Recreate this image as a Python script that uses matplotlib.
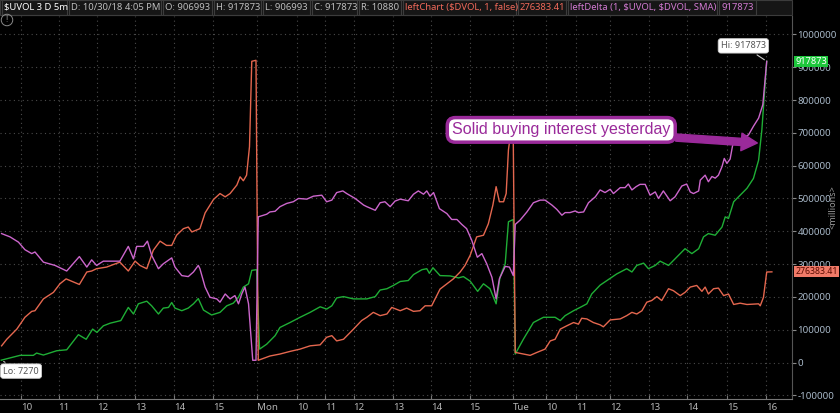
#!/usr/bin/python3

import matplotlib
matplotlib.use("Agg")
import matplotlib.pyplot as plt
from matplotlib.patches import Rectangle

# ---------------------------------------------------------------------------
# Data (x = 5-minute bar number over the 3 sessions, values in thousands)
# ---------------------------------------------------------------------------

uvol_x = [0, 5.8, 9.9, 10.9, 13, 17.1, 20.2, 23.8, 26.2, 28.2, 29.5, 31.5, 33.6, 36.9, 39.2, 40.8,
          42.3, 44.9, 46.4, 48.5, 50, 51.6, 52.6, 53.6, 55.7, 57.7, 59.3, 60.8, 62.4, 64.9, 67.5,
          69.6, 71.6, 73.2, 74.7, 76.3, 77.3, 78.8,
          79.7, 81.9, 84.5, 86, 89.1, 92.2, 95.3, 98.4, 100.4, 102, 103.5, 105.6, 108.7, 112.8,
          115.4, 116.9, 119, 121, 123.1, 125.6, 127.2, 129.8, 131.3, 132.1, 133.2, 135.4, 138.5,
          141.1, 142.6, 144.7, 147, 148.8, 150.8, 152.7, 153.9, 155.5, 156.5, 158,
          158.6, 161.1, 164.2, 167.3, 170.9, 172.5, 174, 176.6, 178.6, 180.7, 182.2, 184.8, 186.9,
          189.9, 193, 194.6, 196.1, 198.2, 199.7, 201.8, 203.3, 205.9, 208, 209.5, 211, 213.1,
          215.2, 216.7, 218.2, 220.3, 222.4, 223.4, 224.4, 226, 228, 230.1, 232.1, 233.7, 234.7,
          235.5, 236.2]
uvol_k = [7.27, 22, 22, 29, 23, 36, 39, 85, 71, 102, 92, 112, 120, 128, 168, 148,
          179, 187, 173, 148, 166, 168, 183, 166, 158, 166, 179, 195, 160, 145, 153,
          173, 181, 199, 230, 240, 281, 283,
          41, 56, 82, 107, 122, 138, 153, 170, 163, 173, 197, 201, 194, 194,
          201, 221, 225, 235, 247, 250, 268, 283, 286, 272, 289, 265, 264,
          258, 262, 248, 217, 240, 225, 179, 260, 301, 429, 436,
          26, 71, 122, 138, 138, 128, 143, 158, 168, 179, 209, 236, 250,
          270, 286, 276, 296, 303, 286, 296, 309, 296, 317, 332, 347, 332,
          347, 383, 393, 388, 413, 444, 439, 490, 510, 531, 561, 617, 709,
          821, 917.873]

dvol_x = [0.1, 1.7, 4.8, 7.3, 9.4, 10.4, 13, 16.1, 18.1, 20, 21.7, 24.1, 26.4, 27.9, 29.4, 32.5,
          36.6, 39.2, 41.3, 42.8, 44.9, 46.9, 49, 51, 52.6, 54.1, 56.2, 57.7, 58.8, 61.3, 62.9,
          65.5, 67.5, 69.1, 70.6, 72.7, 73.7, 74.7, 75.7, 76.6, 77.3, 78.6,
          79.3, 82.9, 86, 89.1, 92.2, 95.3, 98.4, 100.4, 102, 103.5, 105.6, 108.7, 111.2, 112.8,
          114.8, 116.9, 119, 120.5, 123.1, 125.1, 127.2, 129.2, 130.8, 132.8, 135.4, 137.5, 139.5,
          141.6, 143.1, 144.7, 146.7, 148.8, 150.3, 151.7, 152.7, 153.7, 155, 155.8, 156.5, 157.2,
          158,
          158.6, 160.1, 163.2, 165.3, 167.8, 169.4, 170.9, 172.5, 174.5, 176.6, 178.1, 179.1,
          180.7, 182.7, 184.8, 185.8, 187.9, 191, 193, 194.6, 196.1, 197.7, 199.2, 200.7, 202.3,
          203.8, 205.9, 207.4, 209.5, 211, 212.6, 214.6, 216.2, 217.2, 218.2, 219.8, 221.3, 222.9,
          224.4, 226, 228, 230.1, 233.7, 234.2, 235.2, 236.2, 237.8]
dvol_k = [51, 71, 102, 138, 156, 158, 194, 214, 240, 255, 248, 238, 276, 279, 286, 291,
          306, 279, 309, 296, 286, 342, 370, 357, 357, 388, 408, 413, 398, 408, 456,
          497, 515, 505, 515, 541, 566, 554, 571, 658, 918, 921,
          7, 20, 26, 34, 41, 51, 54, 77, 82, 66, 71, 102, 128, 138,
          153, 143, 148, 168, 158, 166, 156, 158, 173, 173, 224, 240, 255,
          276, 296, 327, 383, 388, 423, 480, 536, 490, 490, 515, 648, 700,
          668,
          31, 28, 22, 31, 41, 66, 71, 102, 112, 122, 117, 135,
          133, 122, 115, 109, 130, 133, 143, 153, 148, 158, 184, 189, 201,
          189, 225, 219, 204, 214, 230, 235, 217, 230, 209, 225, 227, 204,
          209, 177, 181, 177, 179, 173, 199, 276, 276.38341]

delta_x = [0.1, 2.7, 5.3, 7.3, 9.4, 10.4, 13, 16.6, 20.2, 24.1, 26.4, 27.9, 29.4, 31.5, 36.6,
           39.2, 40.8, 41.8, 43.9, 45.1, 46.4, 48.5, 50, 52.6, 53.6, 55.7, 57.7, 59.3, 60.8,
           61.3, 62.9, 64.4, 66.5, 67.5, 69.1, 70.6, 72.1, 73.2, 74.2, 75.2, 76.3, 77.6, 78.6,
           79.3, 81.9, 82.9, 84.5, 86, 88.1, 90.1, 91.7, 94.3, 96.3, 98.9, 100.4, 102, 103.5,
           105.4, 106.6, 109.2, 111.8, 112.8, 115.4, 116.9, 118.4, 120, 121.5, 123.1, 125.6,
           127.2, 128.7, 130.3, 131.3, 132.3, 133.4, 135.2, 137.5, 139, 140.6, 142.1, 143.6,
           145.2, 146.9, 148.3, 149.8, 151.4, 152.7, 153.7, 155.5, 156.8, 158,
           158.6, 160.1, 162.2, 164.2, 166.3, 167.8, 169.9, 171.4, 173, 174, 175.5, 177.1,
           178.1, 179.7, 181.2, 183.3, 184.8, 186.3, 187.9, 188.9, 191, 192.5, 193.5, 194.6,
           195.9, 197.1, 198.7, 200.2, 201.8, 202.8, 204.3, 206.4, 207.9, 210, 211.5, 212.6,
           213.6, 215.2, 215.7, 217.2, 218.2, 219.3, 220.3, 221.3, 222.4, 223.1, 223.9, 224.9,
           225.7, 227.5, 229, 230.6, 232.1, 233.7, 235, 235.5, 236.2]
delta_k = [393, 383, 367, 344, 332, 337, 306, 296, 279, 323, 291, 313, 296, 309, 309,
           354, 316, 354, 354, 370, 327, 286, 301, 319, 291, 265, 262, 276, 296,
           286, 230, 199, 194, 184, 209, 194, 204, 179, 209, 230, 179, 7, 7,
           444, 452, 459, 461, 475, 485, 490, 500, 498, 507, 510, 490, 495, 518,
           523, 515, 500, 480, 475, 464, 487, 490, 475, 492, 498, 493,
           513, 523, 513, 523, 507, 518, 469, 454, 436, 436, 421, 408,
           372, 321, 332, 301, 260, 194, 255, 293, 291, 265,
           421, 434, 459, 487, 495, 495, 480, 467, 449, 457, 457, 462,
           457, 459, 487, 505, 526, 518, 528, 515, 533, 533, 544, 526,
           536, 543, 543, 510, 520, 500, 523, 493, 505, 538, 544, 520,
           515, 523, 556, 571, 551, 567, 562, 571, 597, 622, 607, 620,
           663, 674, 684, 694, 720, 745, 786, 842, 917.873]

# hourly grid / time labels (bar number of each mark)
time_ticks  = [6.0, 17.7, 29.5, 41.3, 53.2, 65.3, 78.8, 91.2, 99.9, 108.7, 120.8, 132.5,
               144.5, 158.0, 168.1, 177.3, 187.9, 199.9, 211.7, 223.9, 235.9]
time_labels = ["10", "11", "12", "13", "14", "15", "Mon", "10", "11", "12", "13", "14",
               "15", "Tue", "10", "11", "12", "13", "14", "15", "16"]

price_ticks = list(range(-100000, 1000001, 100000))

header_cells = [
    ("$UVOL 3 D 5m",                      "#ffffff", 2,   67),
    ("D: 10/30/18 4:05 PM",               "#bdbdbd", 69,  161),
    ("O: 906993",                         "#bdbdbd", 163, 212),
    ("H: 917873",                         "#bdbdbd", 214, 261),
    ("L: 906993",                         "#bdbdbd", 263, 310),
    ("C: 917873",                         "#bdbdbd", 312, 357),
    ("R: 10880",                          "#bdbdbd", 359, 401),
    ("leftChart ($DVOL, 1, false)",       "#f0695a", 403, 516),
    ("276383.41",                         "#f0695a", 518, 566),
    ("leftDelta (1, $UVOL, $DVOL, SMA)",  "#d27ad2", 568, 717),
    ("917873",                            "#d27ad2", 719, 756),
]

uvol    = [v * 1000 for v in uvol_k]
dvol    = [v * 1000 for v in dvol_k]
delta   = [v * 1000 for v in delta_k]

# ---------------------------------------------------------------------------
# Figure
# ---------------------------------------------------------------------------

W, H = 840, 413
GREEN  = "#1fae36"
ORANGE = "#e4674f"
VIOLET = "#cc66cc"
PURPLE = "#9a2a9a"

plt.rcParams["font.family"] = ["Noto Sans", "DejaVu Sans"]
plt.rcParams["text.parse_math"] = False   # keep the "$" in ticker names literal

fig = plt.figure(figsize=(W / 100, H / 100), dpi=100, facecolor="black")
ax = fig.add_axes([0, 14 / H, 792 / W, 383 / H], facecolor="black")

ax.plot(uvol_x, uvol, color=GREEN, lw=1.0)
ax.plot(dvol_x, dvol, color=ORANGE, lw=1.0)
ax.plot(delta_x, delta, color=VIOLET, lw=1.0)

ax.set_xlim(-0.39, 244.0)
ax.set_ylim(-111000, 1056000)

# grid
for t in time_ticks:
    ax.axvline(t, color="#4a4a4a", lw=0.8, ls=(0, (1, 3)), zorder=0)
for p in price_ticks:
    ax.axhline(p, color="#4a4a4a", lw=0.8, ls=(0, (1, 3)), zorder=0)

# x axis
ax.set_xticks(time_ticks)
ax.set_xticklabels(time_labels)
for lab in ax.get_xticklabels():
    lab.set_horizontalalignment("left")
ax.tick_params(axis="x", direction="in", length=3, color="#777777", labelcolor="#b4b4b4",
               labelsize=7, pad=3)

# y axis on the right
ax.yaxis.tick_right()
ax.set_yticks(price_ticks)
ax.set_yticklabels([str(p) for p in price_ticks])
ax.tick_params(axis="y", direction="out", length=3, color="#888888", labelcolor="#a9b9c9",
               labelsize=7, pad=1)

for side in ("top", "left"):
    ax.spines[side].set_visible(False)
ax.spines["right"].set_color("#555555")
ax.spines["bottom"].set_color("#777777")

fig.text(833 / W, 1 - 207 / H, "<millions>", rotation=90, color="#9a9a9a", fontsize=6.5,
         ha="center", va="center")

# last value tags (they sit over the axis labels, as in the platform)
ax.text(1.004, uvol[-1], str(round(uvol[-1])), transform=ax.get_yaxis_transform(),
        color="white", fontsize=6.6, ha="left", va="center", zorder=10,
        bbox=dict(boxstyle="square,pad=0.12", fc="#1ec73c", ec="none"))
ax.text(1.004, dvol[-1], "%.2f" % dvol[-1], transform=ax.get_yaxis_transform(),
        color="#5a0a00", fontsize=6.3, ha="left", va="center", zorder=10,
        bbox=dict(boxstyle="square,pad=0.12", fc="#f07a68", ec="none"))

# Hi / Lo bubbles
ax.annotate("Hi: %d" % round(max(uvol)), xy=(uvol_x[-1], max(uvol)), xytext=(229.0, 965000),
            fontsize=6.5, color="#555555", ha="center", va="center",
            bbox=dict(boxstyle="round,pad=0.3", fc="white", ec="#cccccc", lw=0.6),
            arrowprops=dict(arrowstyle="-", color="#cccccc", lw=0.8))
ax.annotate("Lo: %d" % round(min(uvol)), xy=(uvol_x[0], min(uvol)), xytext=(6.1, -26000),
            fontsize=6.5, color="#555555", ha="center", va="center",
            bbox=dict(boxstyle="round,pad=0.3", fc="white", ec="#cccccc", lw=0.6),
            arrowprops=dict(arrowstyle="-", color="#cccccc", lw=0.8))

# callout
ax.annotate("Solid buying interest yesterday", xy=(233.3, 669000), xytext=(172.8, 709000),
            fontsize=11.5, family="Liberation Sans", color=PURPLE, ha="center", va="center",
            bbox=dict(boxstyle="round,pad=0.3,rounding_size=0.5", fc="white", ec=PURPLE, lw=2.5),
            arrowprops=dict(arrowstyle="simple,head_width=1.1,head_length=1.0,tail_width=0.45",
                            fc=PURPLE, ec=PURPLE, shrinkA=0, shrinkB=0))

# alert icon
fig.text(7 / W, 1 - 20 / H, "!", color="#8a8a8a", fontsize=6, ha="center", va="center",
         bbox=dict(boxstyle="circle,pad=0.15", fc="none", ec="#8a8a8a", lw=0.7))

# ---------------------------------------------------------------------------
# Header strip
# ---------------------------------------------------------------------------

fig.add_artist(Rectangle((0, 1 - 15 / H), 792 / W, 15 / H, transform=fig.transFigure,
                         fc="#161616", ec="#3c3c3c", lw=0.8))
for text, color, x0, x1 in header_cells:
    fig.add_artist(Rectangle((x0 / W, 1 - 15 / H), (x1 - x0) / W, 15 / H,
                             transform=fig.transFigure, fc="none", ec="#3c3c3c", lw=0.8))
    fig.text((x0 + 2) / W, 1 - 7.5 / H, text, color=color, fontsize=6.8, ha="left", va="center",
             fontweight="bold" if text.startswith("$") else "normal")

fig.savefig("out.png", dpi=100, facecolor="black")
